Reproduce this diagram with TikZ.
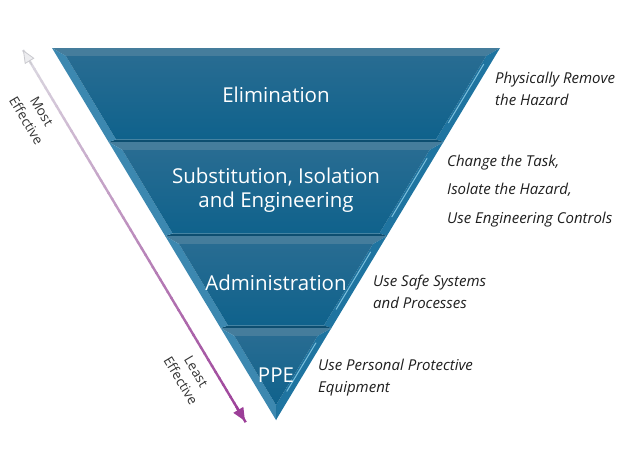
\documentclass[tikz,border=0pt]{standalone}
\usepackage{fontspec}
\setmainfont{Open Sans}
\usetikzlibrary{arrows.meta,calc}

\definecolor{bevT}{HTML}{457D9C}
\definecolor{bevL}{HTML}{3C88B0}
\definecolor{bevR}{HTML}{1F74A0}
\definecolor{bevB}{HTML}{0D4E70}
\definecolor{faceT}{HTML}{286C92}
\definecolor{faceB}{HTML}{0F628C}
\definecolor{hilite}{HTML}{8CCDE8}
\definecolor{arrTop}{HTML}{DCDCE2}
\definecolor{arrBot}{HTML}{9C3E98}
\definecolor{desctext}{HTML}{1E1E1E}

\newcommand\pyrband[3]{% #1 name, #2 top y, #3 bottom y
  \pgfmathsetmacro\yA{#2}
  \pgfmathsetmacro\yB{#3}
  \pgfmathsetmacro\hA{224-0.60215*(\yA-48)}
  \pgfmathsetmacro\hB{max(224-0.60215*(\yB-48),0)}
  \pgfmathsetmacro\yAi{\yA+8}
  \pgfmathsetmacro\yBi{min(\yB-2.5,48+215/0.60215)}
  \pgfmathsetmacro\hAi{224-0.60215*(\yAi-48)-9}
  \pgfmathsetmacro\hBi{max(224-0.60215*(\yBi-48)-9,0)}
  \coordinate (#1-otl) at (276-\hA,\yA);
  \coordinate (#1-otr) at (276+\hA,\yA);
  \coordinate (#1-obr) at (276+\hB,\yB);
  \coordinate (#1-obl) at (276-\hB,\yB);
  \coordinate (#1-itl) at (276-\hAi,\yAi);
  \coordinate (#1-itr) at (276+\hAi,\yAi);
  \coordinate (#1-ibr) at (276+\hBi,\yBi);
  \coordinate (#1-ibl) at (276-\hBi,\yBi);
  \fill[bevT] (#1-otl) -- (#1-otr) -- (#1-itr) -- (#1-itl) -- cycle;
  \fill[bevR] (#1-otr) -- (#1-obr) -- (#1-ibr) -- (#1-itr) -- cycle;
  \fill[bevB] (#1-obr) -- (#1-obl) -- (#1-ibl) -- (#1-ibr) -- cycle;
  \fill[bevL] (#1-obl) -- (#1-otl) -- (#1-itl) -- (#1-ibl) -- cycle;
  \shade[top color=faceT, bottom color=faceB] (#1-itl) -- (#1-itr) -- (#1-ibr) -- (#1-ibl) -- cycle;
  \draw[hilite, line width=1pt, line cap=round, opacity=0.85]
    ($(#1-itr)!0.1!(#1-ibr)+(2.5,0)$) -- ($(#1-itr)!0.8!(#1-ibr)+(2.5,0)$);
}

\tikzset{
  bandlabel/.style={anchor=base, inner sep=0pt, text=white, align=center,
    font=\fontsize{20.5}{24}\selectfont},
  desc/.style={anchor=base west, inner sep=0pt, align=left, text=desctext,
    font=\itshape\fontsize{15}{22}\selectfont},
  sidelabel/.style={inner sep=0pt, align=center, text=black!80,
    font=\fontsize{13.5}{18}\selectfont, rotate=-59.2},
}

\begin{document}
\begin{tikzpicture}[x=1pt,y=-1pt]
\useasboundingbox (0,0) rectangle (640,464);

\pyrband{b1}{48}{142}
\pyrband{b2}{142}{236}
\pyrband{b3}{236}{328}
\pyrband{b4}{328}{420}

% base anchor of a multi-line node is the baseline of its last line
\node[bandlabel] (elim) at (276,102) {Elimination};
\node[bandlabel] (subst) at (276,207) {Substitution, Isolation\\and Engineering};
\node[bandlabel] (admin) at (276,290) {Administration};
\node[bandlabel] (ppe) at (276,382) {PPE};

\node[desc] (d1) at (495,105) {Physically Remove\\the Hazard};
\node[desc, font=\itshape\fontsize{15}{28.5}\selectfont] (d2) at (447,223) {Change the Task,\\Isolate the Hazard,\\Use Engineering Controls};
\node[desc] (d3) at (373,308) {Use Safe Systems\\and Processes};
\node[desc] (d4) at (318,392) {Use Personal Protective\\Equipment};

% effectiveness arrow
\coordinate (arrT) at (23,50);
\coordinate (arrB) at (245,421);
\foreach \i in {0,...,59}{
  \pgfmathsetmacro\p{100*(\i+0.5)/60}
  \draw[line width=2.4pt, color=arrBot!\p!arrTop]
    ($(arrT)!{\i/60}!(arrB)$) -- ($(arrT)!{(\i+1.2)/60}!(arrB)$);
}
\draw[arrTop!80!gray, line width=0.8pt, {Triangle[length=13pt,width=11pt,fill=arrTop!50!white]}-]
  (arrT) -- ($(arrT)!0.04!(arrB)$);
\draw[arrBot, line width=2.4pt, -{Triangle[length=13pt,width=11pt]}]
  ($(arrT)!0.96!(arrB)$) -- (arrB);

\node[sidelabel] (most) at (34,116) {Most\\Effective};
\node[sidelabel] (least) at (188.5,376) {Least\\Effective};
\end{tikzpicture}
\end{document}
